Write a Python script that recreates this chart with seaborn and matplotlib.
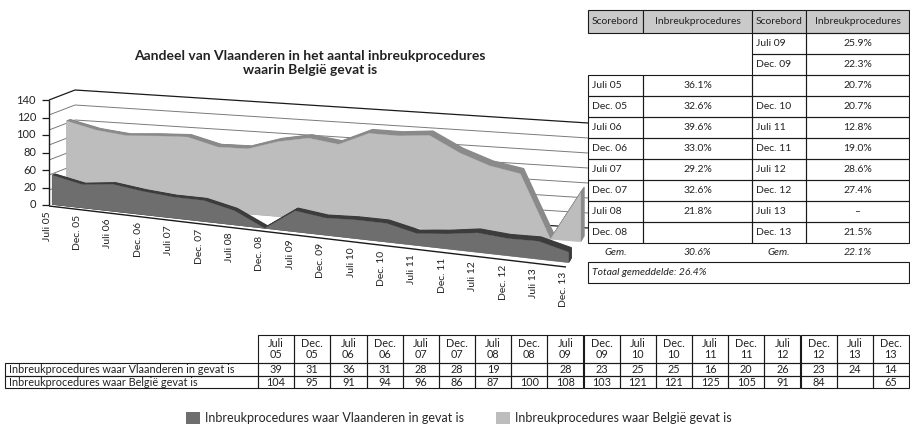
import numpy as np
import matplotlib
matplotlib.use("Agg")
import matplotlib.pyplot as plt
from matplotlib.transforms import Affine2D
from matplotlib.patches import Rectangle, Patch
import seaborn as sns

# Data
categories = ["Juli 05", "Dec. 05", "Juli 06", "Dec. 06", "Juli 07", "Dec. 07",
              "Juli 08", "Dec. 08", "Juli 09", "Dec. 09", "Juli 10", "Dec. 10",
              "Juli 11", "Dec. 11", "Juli 12", "Dec. 12", "Juli 13", "Dec. 13"]
vlaanderen = [39, 31, 36, 31, 28, 28, 19, None, 28, 23, 25, 25, 16, 20, 26, 23, 24, 14]
belgie = [104, 95, 91, 94, 96, 86, 87, 100, 108, 103, 121, 121, 125, 105, 91, 84, None, 65]
series_names = ["Inbreukprocedures waar Vlaanderen in gevat is",
                "Inbreukprocedures waar België gevat is"]
ytick_labels = ["0", "20", "60", "80", "100", "120", "140"]  # as printed (no 40)
grid_values = [0, 20, 40, 60, 80, 100, 120, 140]

sb_header = ["Scorebord", "Inbreukprocedures", "Scorebord", "Inbreukprocedures"]
sb_left_dates = ["", "", "Juli 05", "Dec. 05", "Juli 06", "Dec. 06", "Juli 07", "Dec. 07", "Juli 08", "Dec. 08"]
sb_left_share = ["", "", "36.1%", "32.6%", "39.6%", "33.0%", "29.2%", "32.6%", "21.8%", ""]
sb_right_dates = ["Juli 09", "Dec. 09", "", "Dec. 10", "Juli 11", "Dec. 11", "Juli 12", "Dec. 12", "Juli 13", "Dec. 13"]
sb_right_share = ["25.9%", "22.3%", "20.7%", "20.7%", "12.8%", "19.0%", "28.6%", "27.4%", "–", "21.5%"]
sb_gem = ["Gem.", "30.6%", "Gem.", "22.1%"]
sb_total = "Totaal gemeddelde: 26.4%"

title = "Aandeel van Vlaanderen in het aantal inbreukprocedures\nwaarin België gevat is"

sns.set_theme(style="white")
plt.rcParams["font.family"] = ["Lato", "DejaVu Sans"]

DARK, DARK_TOP = "#6e6e6e", "#3c3c3c"
LIGHT, LIGHT_TOP = "#bdbdbd", "#8a8a8a"
INK = "#222222"

W, H = 910, 429
fig = plt.figure(figsize=(W / 100, H / 100), dpi=100)
ax = fig.add_axes([0, 0, 1, 1])
ax.set_xlim(0, W)
ax.set_ylim(H, 0)
ax.axis("off")

# 3D box corners (floor front/back, left/right) in pixel space
FL, FR = np.array([49.0, 205.0]), np.array([566.0, 266.0])
BL, BR = np.array([75.0, 195.0]), np.array([588.0, 228.0])
K = 0.75  # pixels per unit
n = len(categories)


def depth_tf(z):
    # maps (category index, value) at depth z (0 front, 1 back wall)
    dF, dB, dL = FR - FL, BR - BL, BL - FL
    sx = (dF + z * (dB - dF)) / (n - 1)
    org = FL + z * dL
    m = np.array([[sx[0], 0, org[0]], [sx[1], -K, org[1]], [0, 0, 1]])
    return Affine2D(m) + ax.transData


def side_tf(i):
    # maps (depth, value) at category position i
    t = i / (n - 1)
    dF, dL, dR = FR - FL, BL - FL, BR - FR
    org = FL + t * dF
    sz = dL + t * (dR - dL)
    m = np.array([[sz[0], 0, org[0]], [sz[1], -K, org[1]], [0, 0, 1]])
    return Affine2D(m) + ax.transData


x = np.arange(n)
v_vals = np.nan_to_num(np.array(vlaanderen, dtype=float))
b_vals = np.nan_to_num(np.array(belgie, dtype=float))

# walls
ax.hlines(grid_values[1:-1], 0, n - 1, transform=depth_tf(1), colors="#7a7a7a", lw=0.7, zorder=1)
ax.hlines([grid_values[0], grid_values[-1]], 0, n - 1, transform=depth_tf(1), colors="k", lw=0.9, zorder=1)
ax.hlines(grid_values[1:-1], 0, 1, transform=side_tf(0), colors="#7a7a7a", lw=0.7, zorder=1)
ax.hlines([grid_values[-1]], 0, 1, transform=side_tf(0), colors="k", lw=0.9, zorder=1)

# back series (België) extruded
for z in np.linspace(0.8, 0.65, 7)[:-1]:
    ax.fill_between(x, 0, b_vals, transform=depth_tf(z), color=LIGHT_TOP, lw=0.8, zorder=2)
ax.fill_between(x, 0, b_vals, transform=depth_tf(0.65), color=LIGHT, lw=0.3, zorder=2)

# front series (Vlaanderen) extruded
for z in np.linspace(0.22, 0.1, 7)[:-1]:
    ax.fill_between(x, 0, v_vals, transform=depth_tf(z), color=DARK_TOP, lw=0.8, zorder=3)
ax.fill_between(x, 0, v_vals, transform=depth_tf(0.1), color=DARK, lw=0.3, zorder=3)

# floor front edge and value axis
ax.hlines([0], 0, n - 1, transform=depth_tf(0) + Affine2D().translate(0, -1), colors="k", lw=1.0, zorder=4)
ax.vlines([0], 0, 140, transform=side_tf(0), colors="k", lw=1.0, zorder=4)
ytick_pos = np.linspace(0, 140, len(ytick_labels))
ax.plot(np.zeros(len(ytick_pos)), ytick_pos, ls="none", marker=0, ms=5, mew=0.9,
        color="k", transform=side_tf(0), zorder=4)
for v, lab in zip(ytick_pos, ytick_labels):
    ax.text(0, v, lab, transform=side_tf(0) + Affine2D().translate(-13, 0),
            ha="right", va="center", fontsize=8, color=INK)
for i, cat in enumerate(categories):
    ax.text(i, 0, cat, transform=depth_tf(0) + Affine2D().translate(-2, -6),
            rotation=90, ha="center", va="top", fontsize=7.5, color=INK)

ax.text(310, 63, title, ha="center", va="center", fontsize=10, fontweight="bold",
        linespacing=1.3, color=INK)


def cell(x0, y0, x1, y1, text="", ha="center", fill="none", border=True, style="normal", size=7.5):
    if border or fill != "none":
        ax.add_patch(Rectangle((x0, y0), x1 - x0, y1 - y0, facecolor=fill,
                               edgecolor="k" if border else "none", lw=0.8, zorder=5))
    if text:
        tx = x0 + 4 if ha == "left" else (x0 + x1) / 2
        ax.text(tx, (y0 + y1) / 2, text, ha=ha, va="center", fontsize=size,
                style=style, color=INK, linespacing=1.1, zorder=6)


# scoreboard table
sb_x = [588, 643, 752, 806, 909]
sb_top, sb_head_h, sb_row_h = 10, 23, 21
for c, txt in enumerate(sb_header):
    cell(sb_x[c], sb_top, sb_x[c + 1], sb_top + sb_head_h, txt, fill="#cacaca")
for r in range(len(sb_left_dates)):
    y0 = sb_top + sb_head_h + r * sb_row_h
    y1 = y0 + sb_row_h
    left_on = r >= 2
    cell(sb_x[0], y0, sb_x[1], y1, sb_left_dates[r], ha="left", border=left_on)
    cell(sb_x[1], y0, sb_x[2], y1, sb_left_share[r], border=left_on)
    cell(sb_x[2], y0, sb_x[3], y1, sb_right_dates[r], ha="left")
    cell(sb_x[3], y0, sb_x[4], y1, sb_right_share[r])
y0 = sb_top + sb_head_h + len(sb_left_dates) * sb_row_h
for c, txt in enumerate(sb_gem):
    cell(sb_x[c], y0, sb_x[c + 1], y0 + 19, txt, border=False, style="italic")
cell(sb_x[0], y0 + 19, sb_x[-1], y0 + 40, sb_total, ha="left", style="italic")

# bottom data table
bt_left, bt_lab, bt_right = 5, 258, 909
bt_rows = [335, 363, 376, 388]
cw = (bt_right - bt_lab) / n
for i, cat in enumerate(categories):
    cx0 = bt_lab + i * cw
    cell(cx0, bt_rows[0], cx0 + cw, bt_rows[1], cat.replace(" ", "\n"), size=7.8)
for r, (name, vals) in enumerate(zip(series_names, [vlaanderen, belgie])):
    ya, yb = bt_rows[r + 1], bt_rows[r + 2]
    cell(bt_left, ya, bt_lab, yb, name, ha="left", size=7.8)
    for i, val in enumerate(vals):
        cx0 = bt_lab + i * cw
        cell(cx0, ya, cx0 + cw, yb, "" if val is None else str(val), size=7.8)

handles = [Patch(facecolor=DARK, edgecolor="none"), Patch(facecolor=LIGHT, edgecolor="none")]
fig.legend(handles, series_names, loc="center", bbox_to_anchor=(459 / W, 1 - 418 / H),
           ncol=2, frameon=False, fontsize=9, handlelength=1.1, handleheight=1.1,
           columnspacing=2.6, handletextpad=0.4, borderpad=0)

fig.savefig("out.png", dpi=100)
